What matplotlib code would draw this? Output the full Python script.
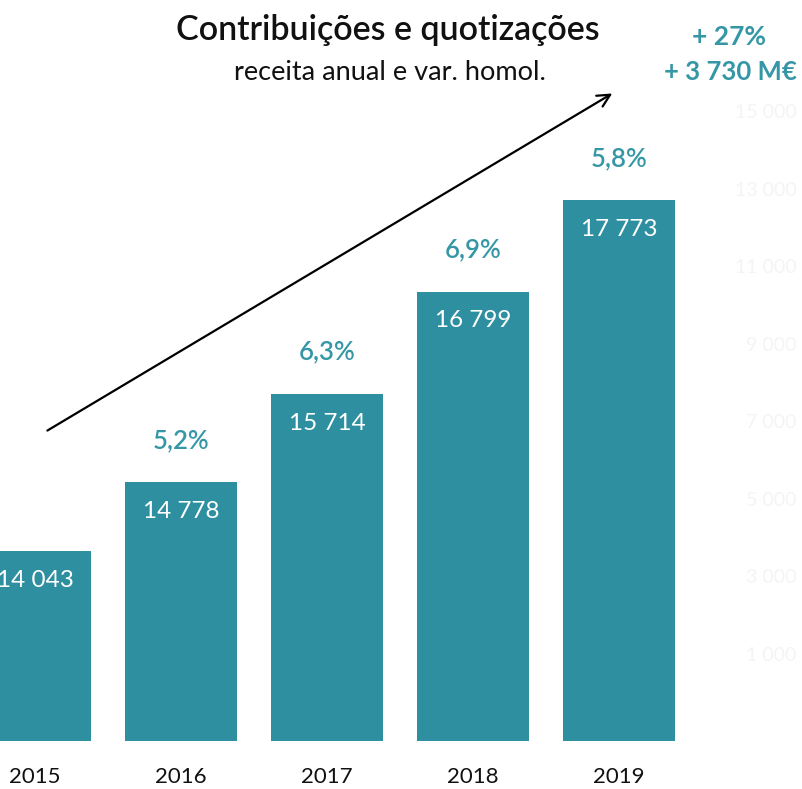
import matplotlib
matplotlib.use("Agg")
import matplotlib.pyplot as plt

years = ["2015", "2016", "2017", "2018", "2019"]
revenue = [14043, 14778, 15714, 16799, 17773]
growth = ["", "5,2%", "6,3%", "6,9%", "5,8%"]
value_labels = ["14 043", "14 778", "15 714", "16 799", "17 773"]
faint_ticks = [1000, 3000, 5000, 7000, 9000, 11000, 13000, 15000]
faint_labels = ["1 000", "3 000", "5 000", "7 000", "9 000", "11 000", "13 000", "15 000"]

BAR = "#2D8F9F"
TEAL = "#3597A6"
FONT = "Lato"

fig = plt.figure(figsize=(8.02, 7.89), dpi=100)
ax = fig.add_axes([0, 1 - 741 / 789, 1, 741 / 789])
x = list(range(len(years)))
ax.bar(x, revenue, width=0.767, color=BAR, zorder=2)
ax.set_xlim(-0.24, 5.253)
ax.set_ylim(12025, 19900)
for s in ax.spines.values():
    s.set_visible(False)
ax.set_yticks([])
ax.set_xticks(x)
ax.set_xticklabels(years, fontsize=16, family=FONT, color="#111111")
ax.tick_params(axis="x", length=0, pad=18.5)

for i, v in enumerate(revenue):
    ax.annotate(value_labels[i], (i, v), xytext=(0, -21), textcoords="offset points",
                ha="center", va="center", color="white", fontsize=17.5, family=FONT, zorder=3)
    if growth[i]:
        ax.annotate(growth[i], (i, v), xytext=(0, 30), textcoords="offset points",
                    ha="center", va="center", color=TEAL, fontsize=18.5, family=FONT,
                    fontweight="semibold", zorder=3)

# faint secondary axis
ax2 = ax.twinx()
ax2.set_ylim(-1250, 17870)
for s in ax2.spines.values():
    s.set_visible(False)
ax2.set_yticks(faint_ticks)
ax2.set_yticklabels(faint_labels, fontsize=14, family=FONT, color="#F4F4F4")
ax2.tick_params(axis="y", length=0, pad=-4)
for lbl in ax2.get_yticklabels():
    lbl.set_horizontalalignment("right")
ax2.set_zorder(0)
ax.set_zorder(1)
ax.patch.set_visible(False)

# arrow
ax.annotate("", xy=(3.97, 18922), xytext=(0.068, 15309),
            arrowprops=dict(arrowstyle="->,head_length=0.9,head_width=0.45", color="black", lw=1.6),
            zorder=4)

fig.text(388 / 802, 1 - 30 / 789, "Contribuições e quotizações", ha="center", va="center",
         fontsize=24.5, family=FONT, fontweight="semibold", color="#111111")
fig.text(390 / 802, 1 - 72 / 789, "receita anual e var. homol.", ha="center", va="center",
         fontsize=19.5, family=FONT, color="#111111")
fig.text(729 / 802, 1 - 37 / 789, "+ 27%", ha="center", va="center",
         fontsize=19, family=FONT, fontweight="bold", color=TEAL)
fig.text(730 / 802, 1 - 72 / 789, "+ 3 730 M€", ha="center", va="center",
         fontsize=18.5, family=FONT, fontweight="bold", color=TEAL)

fig.savefig("out.png", dpi=100, facecolor="white")
